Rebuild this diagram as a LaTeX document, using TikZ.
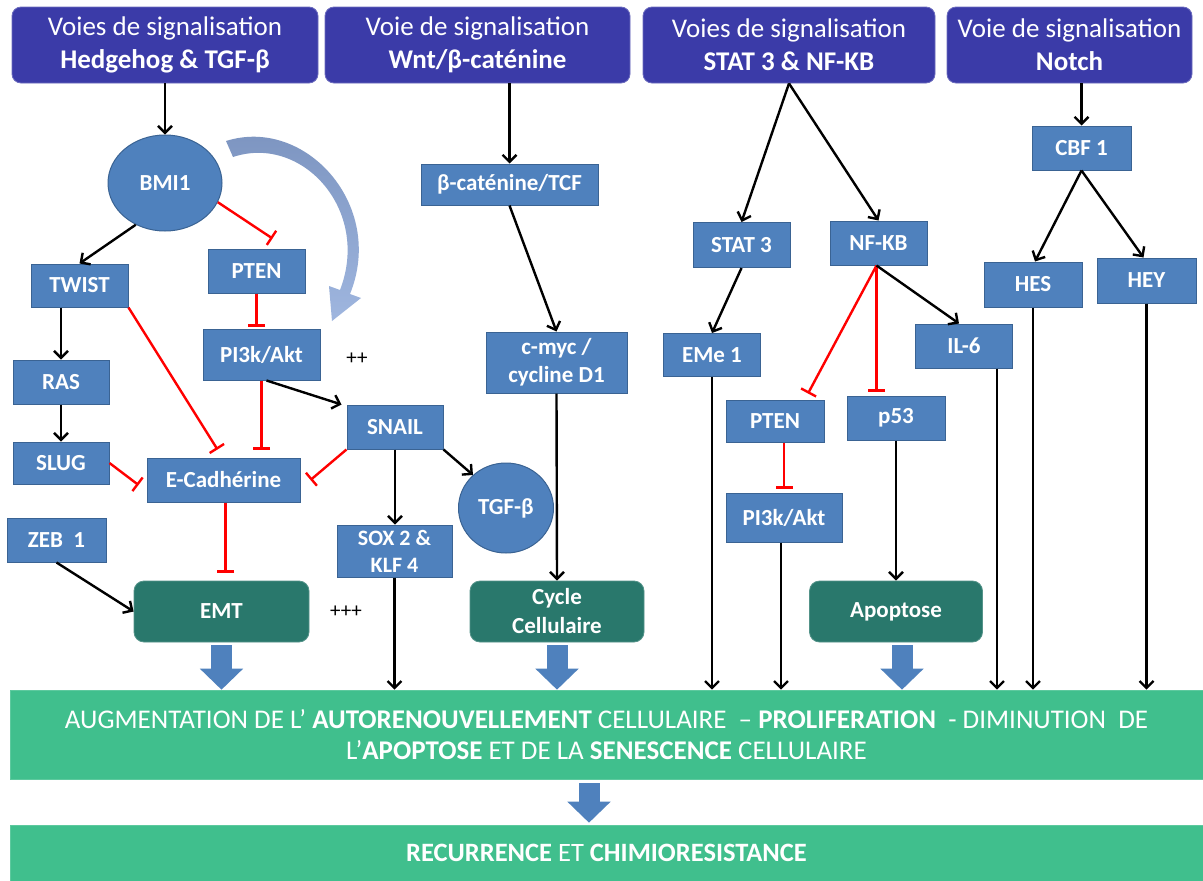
\documentclass[tikz,border=0pt]{standalone}
\usepackage{fontspec}
\setmainfont{Carlito}
\usetikzlibrary{arrows.meta,shapes.geometric,calc}
\definecolor{hdr}{HTML}{3B3BA8}
\definecolor{boxblue}{HTML}{4F81BD}
\definecolor{boxedge}{HTML}{3A6393}
\definecolor{tealbox}{HTML}{29786C}
\definecolor{greenban}{HTML}{40BF8D}
\definecolor{curvedark}{HTML}{7A92BE}
\definecolor{curvelight}{HTML}{C9D6EC}
\definecolor{curvemid}{HTML}{9FB6DF}
\begin{document}
\begin{tikzpicture}[x=1pt,y=-1pt,
  hd/.style={rectangle, rounded corners=9, fill=hdr, draw=hdr!75!white, line width=0.8, text=white, align=center, font=\fontsize{27}{33}\selectfont, inner sep=0, minimum height=76},
  bx/.style={rectangle, fill=boxblue, draw=boxedge, line width=1, text=white, align=center, font=\bfseries\fontsize{23}{28}\selectfont, inner sep=0},
  rnd/.style={ellipse, fill=boxblue, draw=boxedge, line width=1, text=white, font=\bfseries\fontsize{23}{28}\selectfont, inner sep=0},
  tl/.style={rectangle, rounded corners=10, fill=tealbox, draw=tealbox!80!white, line width=0.8, text=white, align=center, font=\bfseries\fontsize{23}{29}\selectfont, minimum width=174, minimum height=61, inner sep=0},
  ban/.style={rectangle, fill=greenban, draw=greenban!85!white, line width=0.6, text=white, align=center, inner sep=0, minimum width=1193},
  arr/.style={draw=black, line width=2.4, -{Straight Barb[length=7pt,width=14pt]}},
  inh/.style={draw=red, line width=2.4, -{Bar[width=17pt]}},
  blk/.style={draw=boxblue, line width=21, -{Triangle[width=42pt,length=21pt]}},
  plus/.style={font=\fontsize{21}{22}\selectfont, text=black, inner sep=0}
]
\useasboundingbox (0,0) rectangle (1203,881);
\fill[white] (0,0) rectangle (1203,881);

% headers
\node[hd, minimum width=306] (H1) at (165,45) {Voies de signalisation\\\textbf{Hedgehog \& TGF-β}};
\node[hd, minimum width=305] (H2) at (477.5,45) {Voie de signalisation\\\textbf{Wnt/β-caténine}};
\node[hd, minimum width=292] (H3) at (789,45) {Voies de signalisation\\\textbf{STAT 3 \& NF-KB}};
\node[hd, minimum width=245] (H4) at (1069.5,45) {Voie de signalisation\\\textbf{Notch}};

% column 1
\node[rnd, minimum width=114, minimum height=96] (BMI1) at (165,183) {BMI1};
\node[bx, minimum width=97, minimum height=43] (TWIST) at (79.5,285.5) {TWIST};
\node[bx, minimum width=97, minimum height=44] (PTENL) at (256.5,271) {PTEN};
\node[bx, minimum width=117, minimum height=51] (PI3kL) at (261.5,354.5) {PI3k/Akt};
\node[bx, minimum width=96, minimum height=44] (RAS) at (61,382) {RAS};
\node[bx, minimum width=96, minimum height=42] (SLUG) at (61,463) {SLUG};
\node[bx, minimum width=153, minimum height=44] (ECad) at (223.5,480) {E-Cadhérine};
\node[bx, minimum width=99, minimum height=44] (ZEB) at (56.5,540) {ZEB\ \ 1};
\node[tl, minimum width=175] (EMT) at (221.5,611.5) {EMT};
\node[bx, minimum width=96, minimum height=44] (SNAIL) at (395,427) {SNAIL};
\node[bx, minimum width=115, minimum height=52, font=\bfseries\fontsize{22}{27}\selectfont] (SOX) at (394.5,551) {SOX 2 \&\\KLF 4};
\node[rnd, minimum width=95, minimum height=90] (TGF) at (506,508) {TGF-β};
\node[plus] (pp) at (357,359) {++};
\node[plus] (ppp) at (346,612) {+++};

% column 2
\node[bx, minimum width=177, minimum height=41] (BCAT) at (509.5,184.5) {β-caténine/TCF};
\node[bx, minimum width=141, minimum height=61] (CMYC) at (556.5,362.5) {c-myc /\\cycline D1};
\node[tl] (CYC) at (557,611.5) {Cycle\\Cellulaire};

% column 3
\node[bx, minimum width=97, minimum height=45] (STAT) at (741.5,245) {STAT\ 3};
\node[bx, minimum width=97, minimum height=44] (NFKB) at (878.5,243) {NF-KB};
\node[bx, minimum width=97, minimum height=43] (EME) at (712,355) {EMe 1};
\node[bx, minimum width=97, minimum height=44] (IL6) at (964,346) {IL-6};
\node[bx, minimum width=98, minimum height=42] (PTENR) at (775,421) {PTEN};
\node[bx, minimum width=98, minimum height=44] (P53) at (896,418) {p53};
\node[bx, minimum width=116, minimum height=49] (PI3kR) at (784,517.5) {PI3k/Akt};
\node[tl, minimum width=173] (APOP) at (896,611.5) {Apoptose};

% column 4
\node[bx, minimum width=99, minimum height=44] (CBF) at (1081.5,148) {CBF 1};
\node[bx, minimum width=98, minimum height=45] (HES) at (1033,284.5) {HES};
\node[bx, minimum width=99, minimum height=45] (HEY) at (1146.5,280.5) {HEY};

% banners
\node[ban, minimum height=89, font=\fontsize{27}{31}\selectfont] (B1) at (606.5,734.5) {AUGMENTATION DE L’ \textbf{AUTORENOUVELLEMENT} CELLULAIRE \ – \textbf{PROLIFERATION} \ - DIMINUTION \ DE\\L’\textbf{APOPTOSE} ET DE LA \textbf{SENESCENCE} CELLULAIRE};
\node[ban, minimum height=56, font=\fontsize{26.5}{30}\selectfont] (B2) at (606.5,853) {\textbf{RECURRENCE} ET \textbf{CHIMIORESISTANCE}};

% curved arrow (BMI1 towards PI3k/Akt)
\shade[top color=curvedark, middle color=curvelight, bottom color=curvemid]
  (226,141) .. controls (305,116) and (386,205) .. (350,294)
  -- (361,298) -- (332,321) -- (329,286) -- (340,290)
  .. controls (371,210) and (302,134) .. (233,157) -- cycle;

% column 1 connectors
\draw[arr] (H1.south -| BMI1.north) -- (BMI1.north);
\draw[arr] (BMI1.235) -- (TWIST.north);
\draw[inh] (BMI1.-20) -- ([xshift=16pt,yshift=10pt]PTENL.north);
\draw[inh, shorten >=2] (PTENL.south) -- (PTENL.south |- PI3kL.north);
\draw[arr] (RAS.north |- TWIST.south) -- (RAS.north);
\draw[inh] (TWIST.south east) -- ([xshift=-6pt,yshift=8pt]ECad.north);
\draw[inh, shorten >=8] (PI3kL.south) -- (PI3kL.south |- ECad.north);
\draw[arr] ([xshift=5pt]PI3kL.south) -- ([xshift=-5pt]SNAIL.north west);
\draw[arr] (RAS.south) -- (SLUG.north);
\draw[inh] (SLUG.east) -- ([xshift=-8pt,yshift=-5pt]ECad.west);
\draw[inh] (SNAIL.south west) -- ([xshift=10pt]ECad.east);
\draw[inh, shorten >=8] ([xshift=2pt]ECad.south) -- ([xshift=2pt]ECad.south |- EMT.north);
\draw[arr] (ZEB.south) -- (EMT.west);
\draw[arr] (SNAIL.south) -- (SNAIL.south |- SOX.north);
\draw[arr] (SNAIL.south east) -- (TGF.135);
\draw[arr] (SOX.south) -- (SOX.south |- B1.north);
\draw[blk] ([yshift=-3pt]EMT.south) -- (EMT.south |- B1.north);

% column 2 connectors
\draw[arr] (H2.south -| BCAT.north) -- (BCAT.north);
\draw[arr] (BCAT.south) -- (CMYC.north);
\draw[arr] (CMYC.south) -- (CYC.north);
\draw[blk] ([yshift=-3pt]CYC.south) -- (CYC.south |- B1.north);

% column 3 connectors
\draw[arr] (H3.south) -- (STAT.north);
\draw[arr] (H3.south) -- (NFKB.north);
\draw[arr] (STAT.south) -- (EME.north);
\draw[arr] (EME.south) -- (EME.south |- B1.north);
\draw[inh] ([xshift=-2pt]NFKB.south) -- ([xshift=33pt,yshift=6pt]PTENR.north);
\draw[inh, shorten >=4] ([xshift=-2pt]NFKB.south) -- ([xshift=-2pt]NFKB.south |- P53.north);
\draw[arr] ([xshift=-2pt]NFKB.south) -- ([xshift=-5pt]IL6.north);
\draw[arr] ([xshift=33pt]IL6.south) -- ([xshift=33pt]IL6.south |- B1.north);
\draw[inh, shorten >=4] ([xshift=9pt]PTENR.south) -- ([xshift=9pt]PTENR.south |- PI3kR.north);
\draw[arr] ([xshift=-3pt]PI3kR.south) -- ([xshift=-3pt]PI3kR.south |- B1.north);
\draw[arr] (P53.south) -- (P53.south |- APOP.north);
\draw[blk] ([xshift=6pt,yshift=-3pt]APOP.south) -- ([xshift=6pt]APOP.south |- B1.north);

% column 4 connectors
\draw[arr] (H4.south -| CBF.north) -- (CBF.north);
\draw[arr] (CBF.south) -- ([xshift=2pt]HES.north);
\draw[arr] (CBF.south) -- ([xshift=-3pt]HEY.north);
\draw[arr] (HES.south) -- (HES.south |- B1.north);
\draw[arr] (HEY.south) -- (HEY.south |- B1.north);

% banner to banner
\draw[blk] ([xshift=-17.5pt,yshift=-4pt]B1.south) -- ([xshift=-17.5pt,yshift=2pt]B2.north);
\end{tikzpicture}
\end{document}
